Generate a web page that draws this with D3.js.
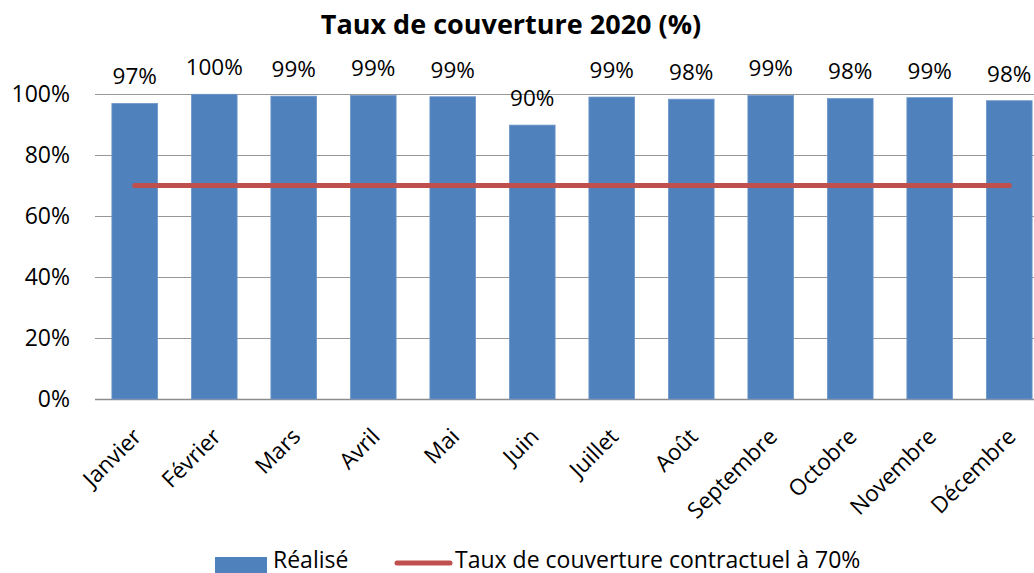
<!DOCTYPE html>
<html>
<head>
<meta charset="utf-8">
<script src="https://cdn.jsdelivr.net/npm/d3@7"></script>
<style>
  body { margin: 0; background: #fff; }
  svg text { font-family: "Open Sans", Lato, sans-serif; fill: #000; }
</style>
</head>
<body>
<div class="container"></div>
<script>
// data
let months = ["Janvier", "Février", "Mars", "Avril", "Mai", "Juin", "Juillet", "Août", "Septembre", "Octobre", "Novembre", "Décembre"];
let realise = [0.969, 0.999, 0.993, 0.995, 0.991, 0.898, 0.99, 0.983, 0.995, 0.985, 0.988, 0.978];
let labels = ["97%", "100%", "99%", "99%", "99%", "90%", "99%", "98%", "99%", "98%", "99%", "98%"];
let contractuel = months.map(() => 0.7);
let yTicks = [0, 0.2, 0.4, 0.6, 0.8, 1];

let width = 1034, height = 573;
let margin = {left: 95, top: 94, bottom: 174};

let svg = d3.select(".container")
  .append("svg")
  .attr("width", width)
  .attr("height", height);

let x = d3.scaleBand()
  .domain(months)
  .range([margin.left, margin.left + 12 * 79.5])
  .paddingInner(0.425)
  .paddingOuter(0.2125);

let y = d3.scaleLinear()
  .domain([0, 1])
  .range([height - margin.bottom, margin.top]);

// title
svg.append("text")
  .attr("x", 511)
  .attr("y", 34)
  .attr("text-anchor", "middle")
  .style("font-size", "27px")
  .style("font-weight", "bold")
  .text("Taux de couverture 2020 (%)");

// gridlines
svg.append("g")
  .selectAll("line")
  .data(yTicks)
  .enter().append("line")
  .attr("x1", margin.left)
  .attr("x2", width)
  .attr("y1", d => Math.round(y(d)) + 0.5)
  .attr("y2", d => Math.round(y(d)) + 0.5)
  .attr("stroke", d => d === 0 ? "#8c8c8c" : "#979797")
  .attr("stroke-width", d => d === 0 ? 1.5 : 1.2);

// y tick labels
svg.append("g")
  .selectAll("text")
  .data(yTicks)
  .enter().append("text")
  .attr("x", 70)
  .attr("y", d => y(d))
  .attr("dy", "0.35em")
  .attr("text-anchor", "end")
  .style("font-size", "23px")
  .text(d => d3.format(".0%")(d));

// bars
svg.append("g")
  .selectAll("rect")
  .data(realise)
  .enter().append("rect")
  .attr("x", (d, i) => x(months[i]))
  .attr("y", d => y(d))
  .attr("width", x.bandwidth())
  .attr("height", d => y(0) - y(d))
  .attr("fill", "#4f81bd")
  .attr("stroke", "#6f97cc")
  .attr("stroke-width", 0.8);

// data labels
svg.append("g")
  .selectAll("text")
  .data(realise)
  .enter().append("text")
  .attr("x", (d, i) => x(months[i]) + x.bandwidth() / 2)
  .attr("y", d => y(d) - 27)
  .attr("dy", "0.35em")
  .attr("text-anchor", "middle")
  .style("font-size", "22.5px")
  .text((d, i) => labels[i]);

// contractual line
let line = d3.line()
  .x((d, i) => x(months[i]) + x.bandwidth() / 2)
  .y(d => y(d));

svg.append("path")
  .datum(contractuel)
  .attr("d", line)
  .attr("fill", "none")
  .attr("stroke", "#c0504d")
  .attr("stroke-width", 5)
  .attr("stroke-linecap", "round");

// x labels
svg.append("g")
  .selectAll("text")
  .data(months)
  .enter().append("text")
  .attr("transform", d => `translate(${x(d) + x.bandwidth() / 2 + 8},${y(0) + 39}) rotate(-45)`)
  .attr("text-anchor", "end")
  .style("font-size", "22.5px")
  .text(d => d);

// legend
let legend = svg.append("g").attr("id", "legend");

legend.append("rect")
  .attr("x", 215)
  .attr("y", 557)
  .attr("width", 52)
  .attr("height", 16)
  .attr("fill", "#4f81bd");

legend.append("text")
  .attr("x", 273)
  .attr("y", 568)
  .style("font-size", "23px")
  .text("Réalisé");

legend.append("line")
  .attr("x1", 397)
  .attr("x2", 450)
  .attr("y1", 563)
  .attr("y2", 563)
  .attr("stroke", "#c0504d")
  .attr("stroke-width", 5)
  .attr("stroke-linecap", "round");

legend.append("text")
  .attr("x", 455)
  .attr("y", 568)
  .style("font-size", "23px")
  .text("Taux de couverture contractuel à 70%");
</script>
</body>
</html>
